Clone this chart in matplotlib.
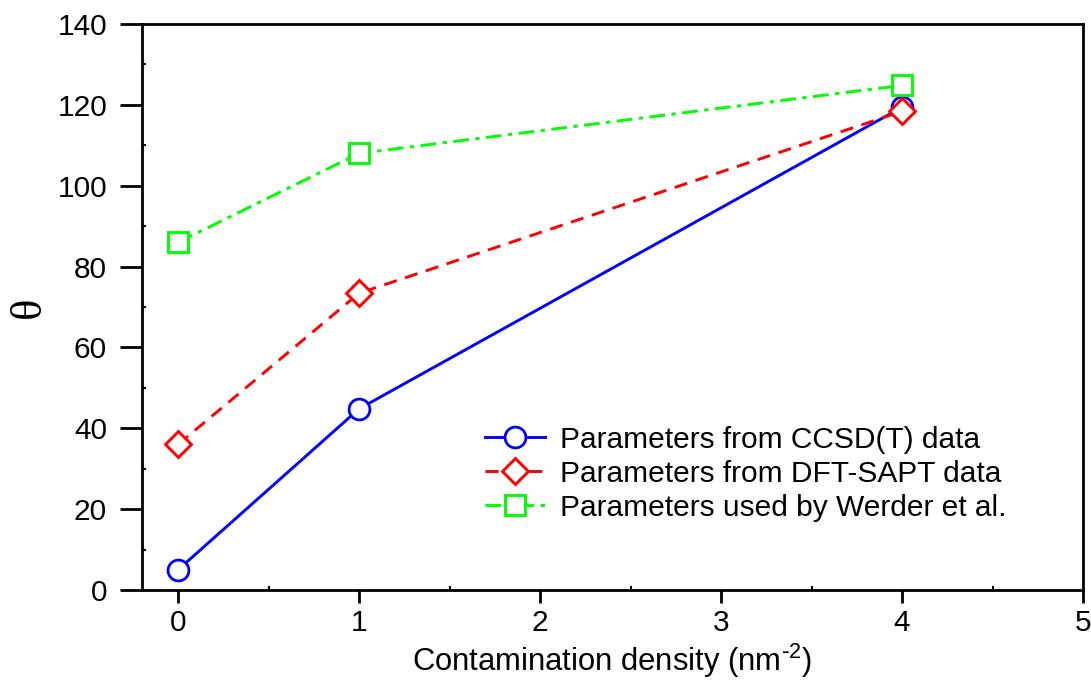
import matplotlib
matplotlib.use("Agg")
import matplotlib.pyplot as plt
from matplotlib.ticker import MultipleLocator

plt.rcParams['font.family'] = ['Liberation Sans', 'DejaVu Sans']
plt.rcParams['mathtext.default'] = 'regular'

# contamination density (nm^-2) and contact angle for each parameter set
density = [0, 1, 4]
theta_ccsdt = [5, 44.8, 119.4]
theta_sapt = [36, 73.4, 118.4]
theta_werder = [86, 108, 124.8]

labels = ['Parameters from CCSD(T) data',
          'Parameters from DFT-SAPT data',
          'Parameters used by Werder et al.']

fig = plt.figure(figsize=(10.91, 6.81), dpi=100)
ax = fig.add_axes([0.130, 0.1336, 0.8627, 0.8312])

ax.plot(density, theta_ccsdt, '-', color='#0000ff', lw=2.1, marker='o',
        ms=15, mfc='white', mew=2, label=labels[0])
ax.plot(density, theta_sapt, '--', color='#ff0000', lw=2.1, marker='D',
        ms=13.5, mfc='white', mew=2.1, label=labels[1], dashes=(4.5, 3))
ax.plot(density, theta_werder, '-.', color='#00ff00', lw=2.1, marker='s',
        ms=14, mfc='white', mew=2.1, label=labels[2],
        dashes=(5.4, 2.2, 1.5, 2.2))

ax.set_xlim(-0.2, 5)
ax.set_ylim(0, 140)
ax.xaxis.set_major_locator(MultipleLocator(1))
ax.xaxis.set_minor_locator(MultipleLocator(0.5))
ax.yaxis.set_major_locator(MultipleLocator(20))
ax.yaxis.set_minor_locator(MultipleLocator(10))

for s in ax.spines.values():
    s.set_linewidth(2)
ax.tick_params(which='major', direction='out', length=9, width=2,
               labelsize=21.5, pad=5)
ax.tick_params(axis='y', which='major', length=16, pad=9)
ax.tick_params(which='minor', direction='in', length=3, width=1.5)

ax.set_xlabel(r'Contamination density (nm$^{\text{-}2}$)', fontsize=22.3,
              labelpad=3)
ax.set_ylabel('θ', fontsize=32, family=['Liberation Serif'], labelpad=6)

ax.legend(loc='lower left', bbox_to_anchor=(0.3645, 0.121), frameon=False,
          fontsize=21.5, handlelength=2.0, handletextpad=0.5,
          labelspacing=0.2, borderaxespad=0, borderpad=0)

fig.savefig('out.png', dpi=100)
